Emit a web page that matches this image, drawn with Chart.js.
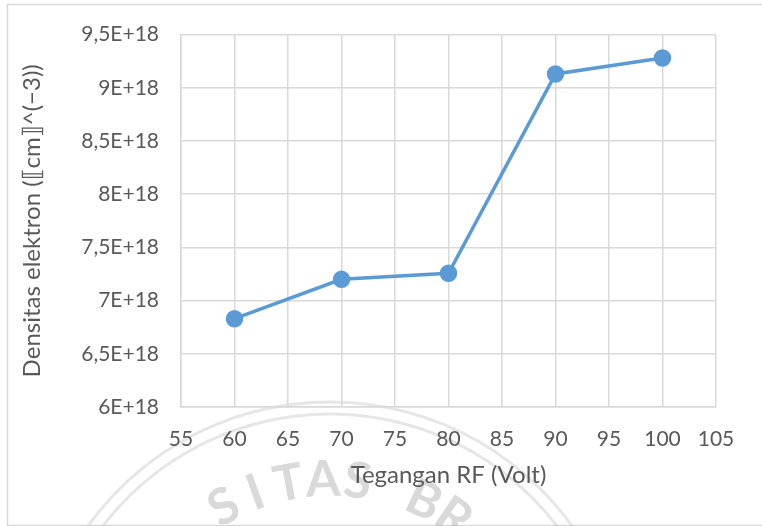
<!DOCTYPE html>
<html>
<head>
<meta charset="utf-8">
<script src="https://cdn.jsdelivr.net/npm/chart.js@4.4.1/dist/chart.umd.min.js"></script>
<style>
  html, body { margin: 0; padding: 0; background: #fff; }
  #wrap { width: 762px; height: 526px; position: relative; }
</style>
</head>
<body>
<div id="wrap"><canvas id="grafico"></canvas></div>
<script>
// dados
var tegangan = [60, 70, 80, 90, 100];
var densitas = [6.83e18, 7.20e18, 7.257e18, 9.13e18, 9.28e18];
var xTicks = [55, 60, 65, 70, 75, 80, 85, 90, 95, 100, 105];
var yTicks = [6e18, 6.5e18, 7e18, 7.5e18, 8e18, 8.5e18, 9e18, 9.5e18];

var corTexto = '#595959';
var corGrade = '#d9d9d9';
var fonte = "Lato, 'Open Sans', sans-serif";

function formatarE(v) {
    var m = Math.round(v / 1e17) / 10;
    return String(m).replace('.', ',') + 'E+18';
}

// moldura e marca d'agua
var fundo = {
    id: 'fundo',
    beforeDraw: function(chart) {
        var ctx = chart.ctx;
        ctx.save();
        ctx.strokeStyle = '#d9d9d9';
        ctx.lineWidth = 1.5;
        ctx.strokeRect(7.5, 4.5, 770, 521);
        // marca d'agua
        ctx.strokeStyle = 'rgba(200,200,200,0.45)';
        ctx.lineWidth = 3;
        ctx.beginPath();
        ctx.arc(330, 700, 298, Math.PI * 1.08, Math.PI * 1.92);
        ctx.stroke();
        ctx.beginPath();
        ctx.arc(330, 700, 286, Math.PI * 1.08, Math.PI * 1.92);
        ctx.stroke();
        var letras = 'SITAS BR';
        ctx.fillStyle = 'rgba(180,180,180,0.5)';
        ctx.font = "bold 50px " + fonte;
        ctx.textAlign = 'center';
        ctx.textBaseline = 'middle';
        for (var i = 0; i < letras.length; i++) {
            var ang = Math.PI * (1.34 + i * 0.05);
            var x = 330 + 220 * Math.cos(ang);
            var y = 700 + 220 * Math.sin(ang);
            ctx.save();
            ctx.translate(x, y);
            ctx.rotate(ang + Math.PI / 2);
            ctx.fillText(letras[i], 0, 0);
            ctx.restore();
        }
        ctx.restore();
    }
};

var ctx = document.getElementById('grafico').getContext('2d');
var grafico = new Chart(ctx, {
    type: 'line',
    data: {
        datasets: [{
            data: tegangan.map(function(t, i) { return { x: t, y: densitas[i] }; }),
            borderColor: '#5b9bd5',
            backgroundColor: '#5b9bd5',
            borderWidth: 3.5,
            pointRadius: 7,
            pointHoverRadius: 7,
            tension: 0
        }]
    },
    options: {
        responsive: true,
        maintainAspectRatio: false,
        animation: false,
        layout: { padding: { left: 14, right: 46, top: 33, bottom: 32 } },
        plugins: { legend: { display: false }, tooltip: { enabled: false } },
        scales: {
            x: {
                type: 'linear',
                min: 55, max: 105,
                afterBuildTicks: function(axis) { axis.ticks = xTicks.map(function(v) { return { value: v }; }); },
                grid: { color: corGrade, lineWidth: 1.5, drawTicks: false },
                border: { color: corGrade, width: 1.5 },
                ticks: { color: corTexto, font: { family: fonte, size: 21 }, padding: 20, maxRotation: 0 },
                title: { display: true, text: 'Tegangan RF (Volt)', color: corTexto, font: { family: fonte, size: 24 }, padding: { top: 4 } },
                afterFit: function(axis) { axis.height = 87; }
            },
            y: {
                type: 'linear',
                min: 6e18, max: 9.5e18,
                afterBuildTicks: function(axis) { axis.ticks = yTicks.map(function(v) { return { value: v }; }); },
                grid: { color: corGrade, lineWidth: 1.5, drawTicks: false },
                border: { color: corGrade, width: 1.5 },
                ticks: { color: corTexto, font: { family: fonte, size: 21 }, padding: 22, callback: formatarE },
                title: { display: true, text: 'Densitas elektron (⟦cm⟧^(−3))', color: corTexto, font: { family: fonte, size: 24 }, padding: { bottom: 8 } },
                afterFit: function(axis) { axis.width = 167; }
            }
        }
    },
    plugins: [fundo]
});
</script>
</body>
</html>
